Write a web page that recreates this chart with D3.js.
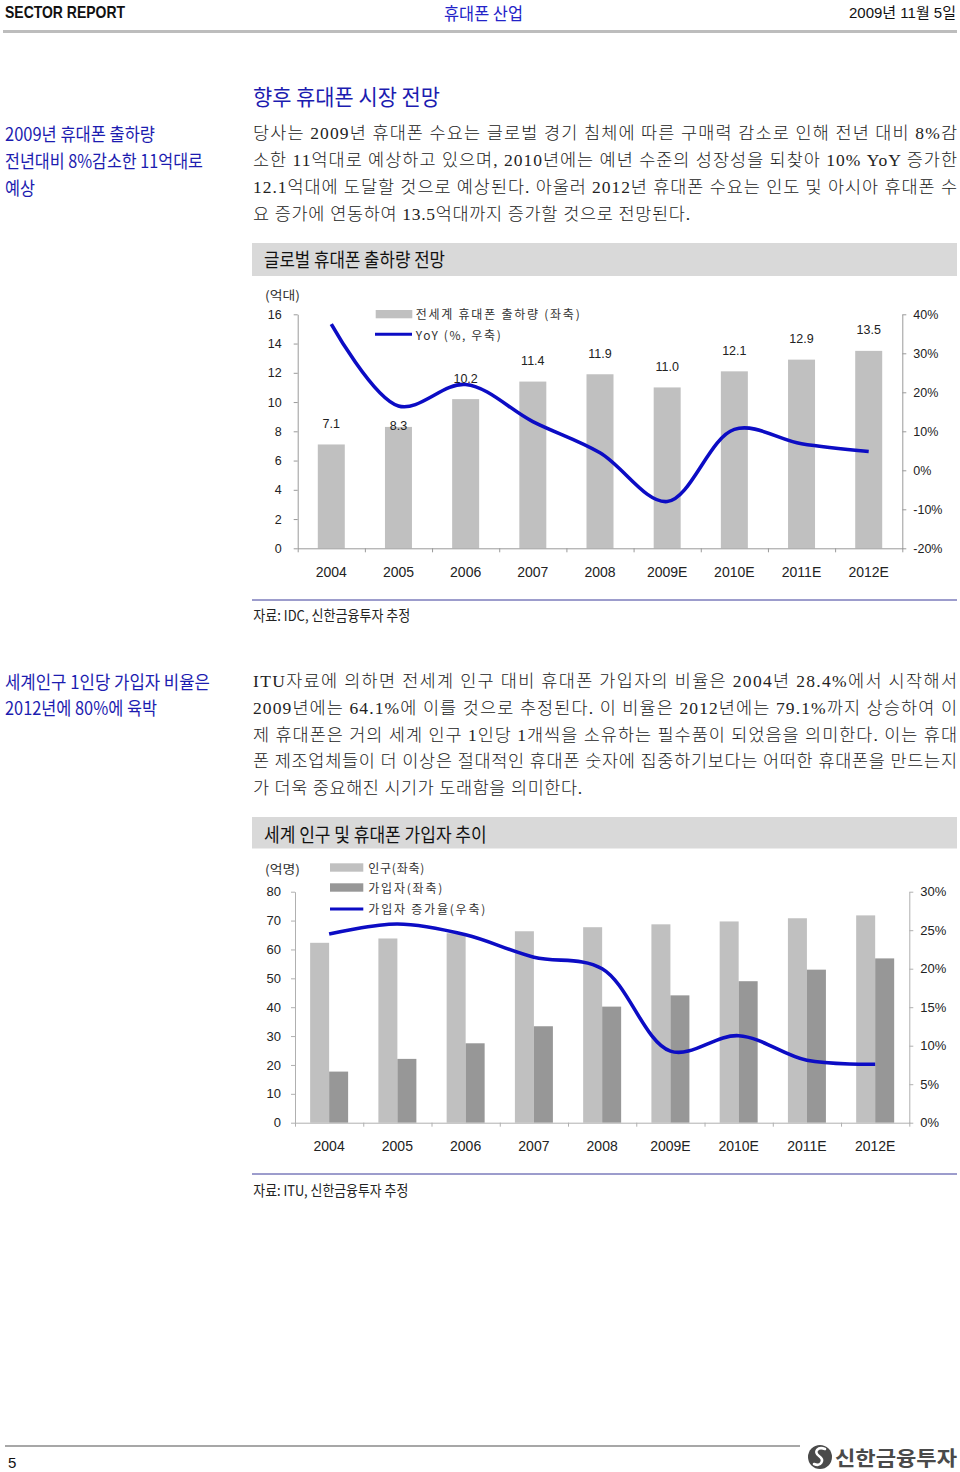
<!DOCTYPE html>
<html><head><meta charset="utf-8">
<script src="https://cdn.jsdelivr.net/npm/d3@7"></script>
<style>body{margin:0;background:#fff}</style>
</head><body><svg id="c" width="960" height="1472"></svg>
<script>
// ---------- data ----------
const years = ["2004","2005","2006","2007","2008","2009E","2010E","2011E","2012E"];
const shipments = [7.1, 8.3, 10.2, 11.4, 11.9, 11.0, 12.1, 12.9, 13.5];        // 억대
const shipmentYoY = [37.5, 16.5, 22.0, 12.5, 4.5, -8.0, 10.5, 6.8, 4.8];        // %
const population = [62.3, 63.8, 65.6, 66.3, 67.7, 68.7, 69.7, 70.8, 71.8];     // 억명
const subscribers = [17.7, 22.1, 27.5, 33.4, 40.2, 44.1, 49.0, 53.0, 56.9];     // 억명
const subscriberGrowth = [24.5, 25.8, 24.4, 21.5, 20.0, 9.3, 11.3, 8.1, 7.6];   // %
const leftTicks1 = [0, 2, 4, 6, 8, 10, 12, 14, 16];
const rightTicks1 = [-20, -10, 0, 10, 20, 30, 40];
const leftTicks2 = [0, 10, 20, 30, 40, 50, 60, 70, 80];
const rightTicks2 = [0, 5, 10, 15, 20, 25, 30];
const legend1 = ["전세계 휴대폰 출하량 (좌축)", "YoY (%, 우축)"];
const legend2 = ["인구(좌축)", "가입자(좌축)", "가입자 증가율(우축)"];
const body1 = [
  "당사는 2009년 휴대폰 수요는 글로벌 경기 침체에 따른 구매력 감소로 인해 전년 대비 8%감",
  "소한 11억대로 예상하고 있으며, 2010년에는 예년 수준의 성장성을 되찾아 10% YoY 증가한",
  "12.1억대에 도달할 것으로 예상된다. 아울러 2012년 휴대폰 수요는 인도 및 아시아 휴대폰 수",
  "요 증가에 연동하여 13.5억대까지 증가할 것으로 전망된다."
];
const body2 = [
  "ITU자료에 의하면 전세계 인구 대비 휴대폰 가입자의 비율은 2004년 28.4%에서 시작해서",
  "2009년에는 64.1%에 이를 것으로 추정된다. 이 비율은 2012년에는 79.1%까지 상승하여 이",
  "제 휴대폰은 거의 세계 인구 1인당 1개씩을 소유하는 필수품이 되었음을 의미한다. 이는 휴대",
  "폰 제조업체들이 더 이상은 절대적인 휴대폰 숫자에 집중하기보다는 어떠한 휴대폰을 만드는지",
  "가 더욱 중요해진 시기가 도래함을 의미한다."
];

// ---------- styles ----------
const NARROW = "'Liberation Sans Narrow','Liberation Sans','Noto Sans CJK KR',sans-serif";
const ARIAL = "'Liberation Sans','Noto Sans CJK KR',sans-serif";
const CJK = "'Noto Sans CJK KR',sans-serif";
const SERIF = "'Liberation Serif','Noto Sans CJK KR',serif";
const BLUE = "#1c1cb0";
const LINEBLUE = "#0c0cc4";
const svg = d3.select("#c");
svg.append("rect").attr("width",960).attr("height",1472).attr("fill","#fff");

function txt(s, x, y, o) {
  o = o || {};
  const t = svg.append("text").attr("x", x).attr("y", y)
    .attr("dominant-baseline", "central")
    .attr("font-family", o.family || CJK)
    .attr("font-size", o.size || 14)
    .attr("fill", o.fill || "#222")
    .attr("font-weight", o.weight || 400)
    .attr("text-anchor", o.anchor || "start")
    .text(s);
  if (o.len) t.attr("textLength", o.len).attr("lengthAdjust", o.adj || "spacingAndGlyphs");
  if (o.ls) t.attr("letter-spacing", o.ls);
  return t;
}

// ---------- header ----------
txt("SECTOR REPORT", 5, 12, {family: ARIAL, size: 16.5, weight: 700, fill: "#111", len: 120});
txt("휴대폰 산업", 444, 12, {size: 17, fill: "#2323c8", len: 79});
txt("2009년 11월 5일", 956, 12.5, {family: NARROW, size: 15, fill: "#111", anchor: "end"});
svg.append("line").attr("x1",3).attr("x2",957).attr("y1",31.5).attr("y2",31.5)
  .attr("stroke","#bdbdbd").attr("stroke-width",3);

// ---------- section 1 text ----------
txt("향후 휴대폰 시장 전망", 253, 95, {size: 22, fill: BLUE, len: 187});
txt("2009년 휴대폰 출하량", 5, 133, {size: 18, fill: BLUE, len: 150});
txt("전년대비 8%감소한 11억대로", 5, 160, {size: 18, fill: BLUE, len: 198});
txt("예상", 5, 187, {size: 18, fill: BLUE, len: 30});
const bodyLen1 = [704, 704, 704, 437];
body1.forEach((s, i) => txt(s, 253, 133 + i * 27, {family: SERIF, size: 17.5, weight: 300, fill: "#222", len: bodyLen1[i], adj: "spacing"}));

// chart title box 1
svg.append("rect").attr("x",252).attr("y",243).attr("width",705).attr("height",33).attr("fill","#d9d9d9");
txt("글로벌 휴대폰 출하량 전망", 264, 258.5, {size: 19, fill: "#111", len: 181});

// ---------- chart 1 ----------
{
  const x = d3.scaleBand().domain(years).range([297.7, 902.3]);
  const bw = x.bandwidth();
  const yL = d3.scaleLinear().domain([0, 16]).range([548.3, 314.3]);
  const yR = d3.scaleLinear().domain([-20, 40]).range([548.3, 314.3]);
  const xb = d3.scaleLinear().domain([0, years.length]).range(x.range());
  const g = svg.append("g");
  const barW = 27;

  g.selectAll("rect.bar").data(shipments).enter().append("rect")
    .attr("x", (d, i) => x(years[i]) + (bw - barW) / 2)
    .attr("y", d => yL(d)).attr("width", barW).attr("height", d => yL(0) - yL(d))
    .attr("fill", "#c0c0c0");

  // axes
  const axL = g.append("g").attr("transform", "translate(297.7,0)")
    .call(d3.axisLeft(yL).tickValues(leftTicks1).tickSize(4).tickSizeOuter(0).tickPadding(12));
  const axR = g.append("g").attr("transform", "translate(902.3,0)")
    .call(d3.axisRight(yR).tickValues(rightTicks1).tickFormat(d => d + "%").tickSize(4).tickSizeOuter(0).tickPadding(7));
  const axB = g.append("g").attr("transform", "translate(0,548.3)")
    .call(d3.axisBottom(xb).tickValues(d3.range(years.length + 1)).tickFormat("").tickSize(4).tickSizeOuter(0));
  [axL, axR, axB].forEach(a => {
    a.selectAll("path,line").attr("stroke", "#9a9a9a");
    a.selectAll("text").attr("font-family", NARROW).attr("font-size", 12.5).attr("fill", "#222");
  });
  g.selectAll("text.xl").data(years).enter().append("text")
    .attr("x", d => x(d) + bw / 2).attr("y", 572).attr("text-anchor", "middle")
    .attr("dominant-baseline", "central").attr("font-family", NARROW).attr("font-size", 14)
    .attr("fill", "#222").text(d => d);

  // line
  const line = d3.line().x((d, i) => x(years[i]) + bw / 2).y(d => yR(d)).curve(d3.curveCatmullRom.alpha(0.5));
  g.append("path").attr("d", line(shipmentYoY)).attr("fill", "none")
    .attr("stroke", LINEBLUE).attr("stroke-width", 3.6).attr("stroke-linejoin", "round");

  // value labels
  g.selectAll("text.vl").data(shipments).enter().append("text")
    .attr("x", (d, i) => x(years[i]) + bw / 2)
    .attr("y", (d, i) => {
      let ly = yL(d) - 20.5;
      if (Math.abs(ly - yR(shipmentYoY[i])) < 4) ly = yL(d) - 1;
      return ly;
    })
    .attr("text-anchor", "middle").attr("dominant-baseline", "central")
    .attr("font-family", NARROW).attr("font-size", 12.5).attr("fill", "#222")
    .text(d => d.toFixed(1));

  // legend & unit
  txt("(억대)", 265, 294, {size: 12.5, fill: "#333", len: 35});
  g.append("rect").attr("x", 375.7).attr("y", 310).attr("width", 36.6).attr("height", 8.3).attr("fill", "#c0c0c0");
  txt(legend1[0], 415.7, 313.5, {size: 12, fill: "#333", len: 164, adj: "spacing"});
  g.append("line").attr("x1", 375).attr("x2", 412).attr("y1", 334.3).attr("y2", 334.3)
    .attr("stroke", LINEBLUE).attr("stroke-width", 3);
  txt(legend1[1], 415.7, 334.5, {size: 12, fill: "#333", len: 85, adj: "spacing"});
}

// source 1
svg.append("line").attr("x1",252).attr("x2",957).attr("y1",600).attr("y2",600).attr("stroke","#3a3a9a").attr("stroke-width",1);
txt("자료: IDC, 신한금융투자 추정", 253.3, 614.5, {size: 14.5, fill: "#222", len: 157});

// ---------- section 2 text ----------
txt("세계인구 1인당 가입자 비율은", 5, 681, {size: 18, fill: BLUE, len: 205});
txt("2012년에 80%에 육박", 5, 707, {size: 18, fill: BLUE, len: 152});
const bodyLen2 = [704, 704, 704, 704, 329];
body2.forEach((s, i) => txt(s, 253, 681 + i * 26.8, {family: SERIF, size: 17.5, weight: 300, fill: "#222", len: bodyLen2[i], adj: "spacing"}));

svg.append("rect").attr("x",252).attr("y",817).attr("width",705).attr("height",31.5).attr("fill","#d9d9d9");
txt("세계 인구 및 휴대폰 가입자 추이", 264, 833, {size: 19, fill: "#111", len: 222.7});

// ---------- chart 2 ----------
{
  const x = d3.scaleBand().domain(years).range([295, 909.3]);
  const bw = x.bandwidth();
  const yL = d3.scaleLinear().domain([0, 80]).range([1122.7, 891.7]);
  const yR = d3.scaleLinear().domain([0, 30]).range([1122.7, 891.7]);
  const xb = d3.scaleLinear().domain([0, years.length]).range(x.range());
  const g = svg.append("g");
  const barW = 19;
  const off = (bw - 2 * barW) / 2;

  g.selectAll("rect.pop").data(population).enter().append("rect")
    .attr("x", (d, i) => x(years[i]) + off).attr("y", d => yL(d))
    .attr("width", barW).attr("height", d => yL(0) - yL(d)).attr("fill", "#c0c0c0");
  g.selectAll("rect.sub").data(subscribers).enter().append("rect")
    .attr("x", (d, i) => x(years[i]) + off + barW).attr("y", d => yL(d))
    .attr("width", barW).attr("height", d => yL(0) - yL(d)).attr("fill", "#979797");

  const axL = g.append("g").attr("transform", "translate(295,0)")
    .call(d3.axisLeft(yL).tickValues(leftTicks2).tickSize(4).tickSizeOuter(0).tickPadding(10));
  const axR = g.append("g").attr("transform", "translate(909.3,0)")
    .call(d3.axisRight(yR).tickValues(rightTicks2).tickFormat(d => d + "%").tickSize(4).tickSizeOuter(0).tickPadding(7));
  const axB = g.append("g").attr("transform", "translate(0,1122.7)")
    .call(d3.axisBottom(xb).tickValues(d3.range(years.length + 1)).tickFormat("").tickSize(4).tickSizeOuter(0));
  [axL, axR, axB].forEach(a => {
    a.selectAll("path,line").attr("stroke", "#b0b0b0");
    a.selectAll("text").attr("font-family", NARROW).attr("font-size", 13).attr("fill", "#222");
  });
  g.selectAll("text.xl").data(years).enter().append("text")
    .attr("x", d => x(d) + bw / 2).attr("y", 1146).attr("text-anchor", "middle")
    .attr("dominant-baseline", "central").attr("font-family", NARROW).attr("font-size", 14)
    .attr("fill", "#222").text(d => d);

  const line = d3.line().x((d, i) => x(years[i]) + bw / 2).y(d => yR(d)).curve(d3.curveCatmullRom.alpha(0.5));
  g.append("path").attr("d", line(subscriberGrowth)).attr("fill", "none")
    .attr("stroke", LINEBLUE).attr("stroke-width", 3.6).attr("stroke-linejoin", "round");

  txt("(억명)", 265, 868.5, {size: 12.5, fill: "#333", len: 35});
  g.append("rect").attr("x", 330).attr("y", 863.3).attr("width", 33.3).attr("height", 8.4).attr("fill", "#c0c0c0");
  txt(legend2[0], 368.3, 867, {size: 12, fill: "#333", len: 56, adj: "spacing"});
  g.append("rect").attr("x", 330).attr("y", 883.3).attr("width", 33.3).attr("height", 8.4).attr("fill", "#979797");
  txt(legend2[1], 368.3, 887.3, {size: 12, fill: "#333", len: 74, adj: "spacing"});
  g.append("line").attr("x1", 330).attr("x2", 363.3).attr("y1", 909).attr("y2", 909)
    .attr("stroke", LINEBLUE).attr("stroke-width", 3);
  txt(legend2[2], 368.3, 908.3, {size: 12, fill: "#333", len: 117, adj: "spacing"});
}

svg.append("line").attr("x1",252).attr("x2",957).attr("y1",1174).attr("y2",1174).attr("stroke","#3a3a9a").attr("stroke-width",1);
txt("자료: ITU, 신한금융투자 추정", 253.3, 1189.5, {size: 14.5, fill: "#222", len: 155});

// ---------- footer ----------
svg.append("line").attr("x1",5).attr("x2",800).attr("y1",1446).attr("y2",1446).attr("stroke","#8a8a8a").attr("stroke-width",1.5);
txt("5", 8, 1462, {family: ARIAL, size: 15, fill: "#111"});
svg.append("circle").attr("cx",820).attr("cy",1457).attr("r",12).attr("fill","#4a4a4a");
svg.append("path").attr("d","M825,1449 C818,1446 813,1452 819,1456 C825,1460 821,1467 814,1464")
  .attr("fill","none").attr("stroke","#fff").attr("stroke-width",2.6).attr("stroke-linecap","round");
txt("신한금융투자", 835, 1457, {size: 20, weight: 700, fill: "#4a4a4a", len: 122});
</script></body></html>
